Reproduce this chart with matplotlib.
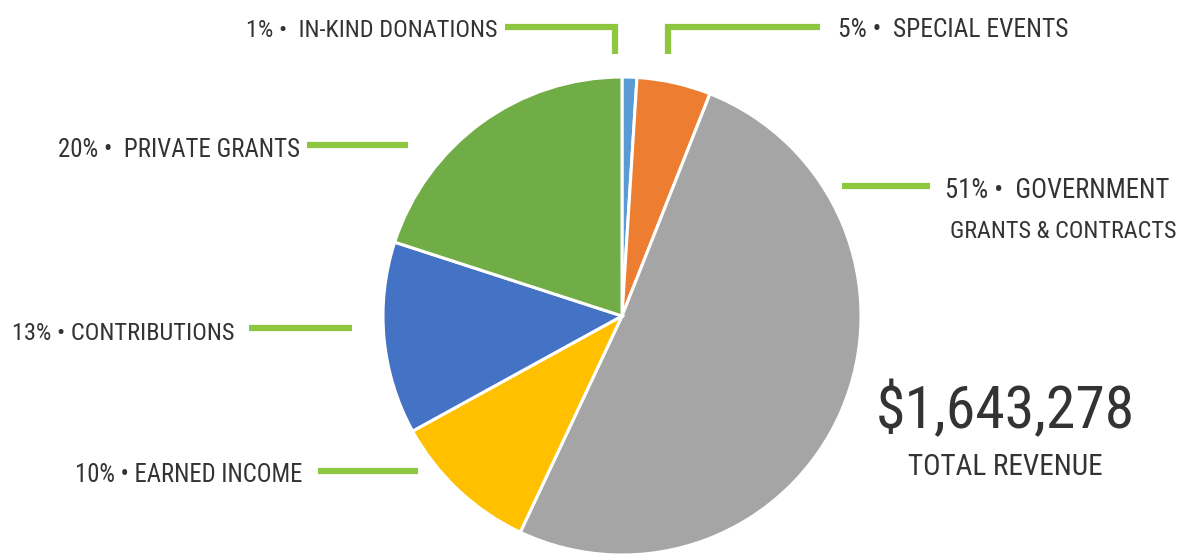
import matplotlib
matplotlib.use("Agg")
import matplotlib.pyplot as plt
from matplotlib import font_manager

# ---- data ----
categories = ["IN-KIND DONATIONS", "SPECIAL EVENTS", "GOVERNMENT GRANTS & CONTRACTS",
              "EARNED INCOME", "CONTRIBUTIONS", "PRIVATE GRANTS"]
shares = [1, 5, 51, 10, 13, 20]
colors = ["#5B9BD5", "#ED7D31", "#A5A5A5", "#FFC000", "#4472C4", "#70AD47"]
total_value = "$1,643,278"
total_label = "TOTAL REVENUE"

# ---- font choice (narrowest available) ----
family = "DejaVu Sans"
for cand in ["Roboto Condensed", "Liberation Sans Narrow", "DejaVu Sans Condensed",
             "Open Sans Condensed", "Noto Sans Condensed"]:
    try:
        font_manager.findfont(cand, fallback_to_default=False)
        family = cand
        break
    except Exception:
        pass

W, H = 1182, 555
fig = plt.figure(figsize=(W / 100, H / 100), dpi=100)
ax = fig.add_axes([0, 0, 1, 1])
ax.set_xlim(0, W)
ax.set_ylim(0, H)
ax.set_aspect("equal")
ax.axis("off")

def Y(y):
    return H - y

# pie
ax.pie(shares, colors=colors, startangle=90, counterclock=False,
       center=(622, Y(316)), radius=239, frame=True,
       wedgeprops=dict(edgecolor="white", linewidth=2.2))
ax.set_xlim(0, W)
ax.set_ylim(0, H)
ax.axis("off")

green = "#8DC63F"
lw = 4.5
def line(xs, ys):
    ax.plot(xs, [Y(v) for v in ys], color=green, lw=lw, solid_capstyle="butt",
            solid_joinstyle="miter")

line([505, 615, 615], [27, 27, 54])
line([820, 668, 668], [27, 27, 54])
line([307, 408], [145, 145])
line([842, 930], [186, 186])
line([249, 352], [328, 328])
line([318, 418], [471, 471])

fig.canvas.draw()
renderer = fig.canvas.get_renderer()
txtcolor = "#333333"

def fit_text(s, x, yb, ha, width, maxsize):
    t = ax.text(x, Y(yb), s, ha=ha, va="baseline", fontsize=maxsize,
                color=txtcolor, family=family)
    w = t.get_window_extent(renderer).width
    if w > width:
        t.set_fontsize(maxsize * width / w)
    return t

size = 23
fit_text(f"{shares[0]}% \u2022  IN-KIND DONATIONS", 497, 37, "right", 252, size)
fit_text(f"{shares[1]}% \u2022  SPECIAL EVENTS", 838, 37, "left", 232, size)
fit_text(f"{shares[5]}% \u2022  PRIVATE GRANTS", 300, 157, "right", 243, size)
fit_text(f"{shares[2]}% \u2022  GOVERNMENT", 945, 198, "left", 225, size)
fit_text("GRANTS & CONTRACTS", 1177, 238, "right", 227, size)
fit_text(f"{shares[4]}% \u2022 CONTRIBUTIONS", 235, 340, "right", 223, size)
fit_text(f"{shares[3]}% \u2022 EARNED INCOME", 302, 482, "right", 230, size)
fit_text(total_value, 1005, 428, "center", 259, 56)
fit_text(total_label, 1005, 475, "center", 195, 28)

fig.savefig("out.png", dpi=100, facecolor="white")
